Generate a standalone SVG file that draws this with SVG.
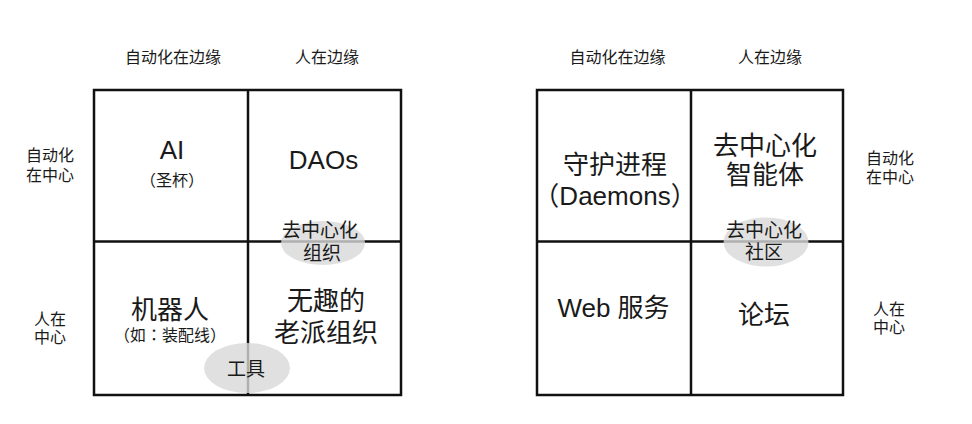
<svg xmlns="http://www.w3.org/2000/svg" width="972" height="424" viewBox="0 0 972 424">
<style>
text{font-family:"Liberation Sans","Noto Sans CJK SC",sans-serif;fill:#1a1a1a;text-anchor:middle}
.hd{font-size:16px}
.big{font-size:26px}
.sub{font-size:16px}
.tc{font-family:"Liberation Sans","Noto Sans CJK TC",sans-serif}
.el{font-size:19px}
.grid{fill:none;stroke:#111;stroke-width:2.5}
.bub{fill:#d8d8d8;fill-opacity:0.8}
</style>
<rect width="972" height="424" fill="#fff"/>
<g id="headers">
<text class="hd" x="173" y="62.5">自动化在边缘</text>
<text class="hd" x="327" y="62.5">人在边缘</text>
<text class="hd" x="617.5" y="62.5">自动化在边缘</text>
<text class="hd" x="770" y="62.5">人在边缘</text>
<text class="hd" x="50" y="160.5">自动化</text>
<text class="hd" x="50" y="180.5">在中心</text>
<text class="hd" x="50" y="324.5">人在</text>
<text class="hd" x="50" y="342.5">中心</text>
<text class="hd" x="890" y="164">自动化</text>
<text class="hd" x="890" y="182.5">在中心</text>
<text class="hd" x="889" y="314.5">人在</text>
<text class="hd" x="889" y="333">中心</text>
</g>
<g id="connectors">
<g id="grid-left">
<rect class="grid" x="94" y="90" width="307" height="305"/>
<line class="grid" x1="248" y1="90" x2="248" y2="395"/>
<line class="grid" x1="94" y1="241.5" x2="401" y2="241.5"/>
</g>
<g id="grid-right">
<rect class="grid" x="537" y="90" width="306" height="305"/>
<line class="grid" x1="691" y1="90" x2="691" y2="395"/>
<line class="grid" x1="537" y1="241.5" x2="843" y2="241.5"/>
</g>
</g>
<g id="node-ai">
<text class="big" x="172" y="159">AI</text>
<text class="sub" x="172" y="185.5">（圣杯）</text>
</g>
<g id="node-daos">
<text class="big" x="323.5" y="168.5">DAOs</text>
</g>
<g id="node-robot">
<text class="big" x="170" y="318.5">机器人</text>
<text class="sub tc" x="170" y="341">（如：装配线）</text>
</g>
<g id="node-boring">
<text class="big" x="326" y="310">无趣的</text>
<text class="big" x="326" y="342">老派组织</text>
</g>
<g id="node-decentral-org">
<ellipse class="bub" cx="323" cy="243" rx="42" ry="22"/>
<text class="el" x="320" y="236.5">去中心化</text>
<text class="el" x="322" y="259.5">组织</text>
</g>
<g id="node-tools">
<ellipse class="bub" cx="247" cy="368" rx="43" ry="25"/>
<text class="el" x="246" y="376">工具</text>
</g>
<g id="node-daemons">
<text class="big" x="615" y="173.5">守护进程</text>
<text class="big" x="615" y="205">（Daemons）</text>
</g>
<g id="node-dai">
<text class="big" x="765" y="155">去中心化</text>
<text class="big" x="765" y="184">智能体</text>
</g>
<g id="node-web">
<text class="big" x="613.5" y="317">Web 服务</text>
</g>
<g id="node-forum">
<text class="big" x="764" y="323.5">论坛</text>
</g>
<g id="node-decentral-community">
<ellipse class="bub" cx="766" cy="242" rx="42.5" ry="24.5"/>
<text class="el" x="764" y="237">去中心化</text>
<text class="el" x="764" y="258.5">社区</text>
</g>
</svg>
